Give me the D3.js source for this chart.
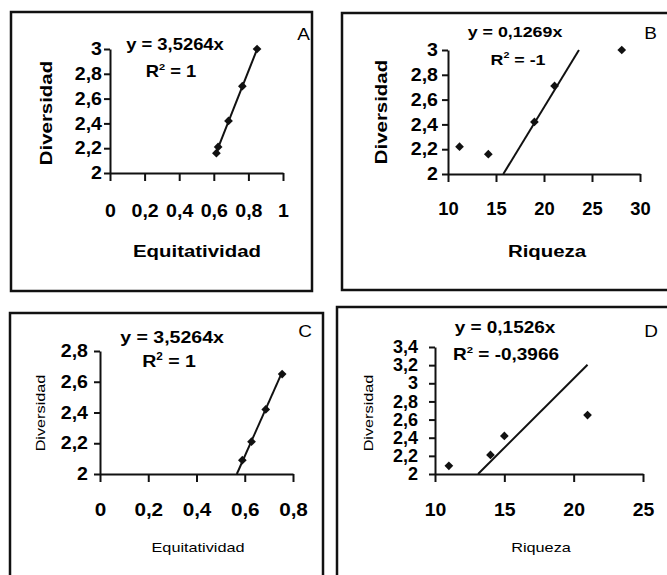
<!DOCTYPE html>
<html>
<head>
<meta charset="utf-8">
<script src="https://cdn.jsdelivr.net/npm/d3@7/dist/d3.min.js"></script>
<style>
  html, body { margin: 0; padding: 0; background: #fff; }
  svg { display: block; }
  text { font-family: "Liberation Sans", Arial, sans-serif; fill: #000; }
</style>
</head>
<body>
<svg id="chart" width="667" height="575"></svg>
<script>
// ---------- data ----------
const panelLetters = ["A", "B", "C", "D"];
const xTitles = ["Equitatividad", "Riqueza", "Equitatividad", "Riqueza"];
const yTitle = "Diversidad";
const equations = ["y = 3,5264x", "y = 0,1269x", "y = 3,5264x", "y = 0,1526x"];
const r2Values = ["1", "-1", "1", "-0,3966"];

const equitA = [0.615, 0.625, 0.685, 0.765, 0.85];
const divA   = [2.16, 2.21, 2.42, 2.70, 3.00];
const riqB   = [11.2, 14.2, 19, 21.1, 28.1];
const divB   = [2.22, 2.16, 2.42, 2.71, 3.00];
const equitC = [0.59, 0.628, 0.687, 0.755];
const divC   = [2.09, 2.21, 2.42, 2.65];
const riqD   = [11, 14, 15, 21];
const divD   = [2.09, 2.21, 2.42, 2.65];

const trendSlopes = [3.5264, 0.1269, 3.5264, 0.1526];
const trendRanges = [[0.615, 0.85], [11, 28], [0.55, 0.755], [11, 21]];

const xTicksA = [0, 0.2, 0.4, 0.6, 0.8, 1];
const yTicksA = [2, 2.2, 2.4, 2.6, 2.8, 3];
const xTicksB = [10, 15, 20, 25, 30];
const yTicksB = [2, 2.2, 2.4, 2.6, 2.8, 3];
const xTicksC = [0, 0.2, 0.4, 0.6, 0.8];
const yTicksC = [2, 2.2, 2.4, 2.6, 2.8];
const xTicksD = [10, 15, 20, 25];
const yTicksD = [2, 2.2, 2.4, 2.6, 2.8, 3, 3.2, 3.4];

// ---------- layout ----------
const panels = [
  { xs: equitA, ys: divA, xDom: [0, 1], yDom: [2, 3], xTicks: xTicksA, yTicks: yTicksA,
    box: [11, 12, 301, 279], xr: [110, 283], yr: [173, 49], yPad: 2, xPad: 24,
    xFont: 17.5, yFont: 17.5, xSX: 1.12, ySX: 1.12,
    eq: [175, 50], r2: [171, 77], letter: [310, 40], xt: [197, 257], yt: [52, 113],
    titleFont: 17, titleBold: true, titleSX: 1.2, eqFont: 16 },
  { xs: riqB, ys: divB, xDom: [10, 30], yDom: [2, 3], xTicks: xTicksB, yTicks: yTicksB,
    box: [342, 13, 345, 277], xr: [448, 640], yr: [174, 50], yPad: 4, xPad: 21,
    xFont: 17.5, yFont: 17.5, xSX: 1.05, ySX: 1.12,
    eq: [515, 37], r2: [518, 65], letter: [657, 39], xt: [547, 257], yt: [387, 112],
    titleFont: 17, titleBold: true, titleSX: 1.2, eqFont: 15.5 },
  { xs: equitC, ys: divC, xDom: [0, 0.8], yDom: [2, 2.8], xTicks: xTicksC, yTicks: yTicksC,
    box: [10, 313, 313, 290], xr: [100, 293], yr: [474, 351], yPad: 6, xPad: 21,
    xFont: 18, yFont: 17.5, xSX: 1.15, ySX: 1.12,
    eq: [172, 343], r2: [169, 367], letter: [312, 337], xt: [198, 552], yt: [45, 413],
    titleFont: 13, titleBold: false, titleSX: 1.25, eqFont: 17 },
  { xs: riqD, ys: divD, xDom: [10, 25], yDom: [2, 3.4], xTicks: xTicksD, yTicks: yTicksD,
    box: [337, 307, 350, 290], xr: [435, 643], yr: [474, 347], yPad: 11, xPad: 21,
    xFont: 18, yFont: 17.5, xSX: 1.08, ySX: 1.03,
    eq: [505, 333], r2: [506, 360], letter: [658, 337], xt: [541, 552], yt: [373, 413],
    titleFont: 13, titleBold: false, titleSX: 1.25, eqFont: 16.5 }
];

const svg = d3.select("#chart");
const fmt = d => String(d).replace(".", ",");

function stretchTicks(sel, s) {
  sel.selectAll(".tick text").each(function () {
    const t = d3.select(this);
    const x = +t.attr("x") || 0;
    t.attr("x", x / s).attr("transform", `scale(${s},1)`);
  });
}

function addText(g, x, y, str, o) {
  return g.append("text")
    .attr("transform", `translate(${x},${y})${o.rotate ? " rotate(-90)" : ""} scale(${o.sx},1)`)
    .attr("text-anchor", o.anchor || "middle")
    .style("font-size", o.size + "px")
    .style("font-weight", o.bold ? "bold" : "normal")
    .text(str);
}

panels.forEach((p, i) => {
  const g = svg.append("g");
  // frame
  g.append("rect")
    .attr("x", p.box[0]).attr("y", p.box[1])
    .attr("width", p.box[2]).attr("height", p.box[3])
    .attr("fill", "none").attr("stroke", "#111").attr("stroke-width", 2.5);

  const x = d3.scaleLinear().domain(p.xDom).range(p.xr);
  const y = d3.scaleLinear().domain(p.yDom).range(p.yr);

  // axes
  const ax = g.append("g").attr("transform", `translate(0,${p.yr[0]})`)
    .call(d3.axisBottom(x).tickValues(p.xTicks).tickFormat(fmt).tickSize(8).tickSizeOuter(0).tickPadding(p.xPad));
  const ay = g.append("g").attr("transform", `translate(${p.xr[0]},0)`)
    .call(d3.axisLeft(y).tickValues(p.yTicks).tickFormat(fmt).tickSize(6).tickSizeOuter(0).tickPadding(p.yPad));
  [[ax, p.xFont, p.xSX], [ay, p.yFont, p.ySX]].forEach(([a, fs, sx]) => {
    a.select(".domain").attr("stroke", "#111").attr("stroke-width", 2);
    a.selectAll(".tick line").attr("stroke", "#111").attr("stroke-width", 2);
    a.selectAll(".tick text")
      .style("font-family", '"Liberation Sans", Arial, sans-serif')
      .style("font-weight", "bold").style("font-size", fs + "px").attr("fill", "#000");
    stretchTicks(a, sx);
  });

  // trendline y = slope * x, drawn over its x range and clipped to the y domain
  const s = trendSlopes[i];
  const x0 = Math.max(trendRanges[i][0], p.yDom[0] / s);
  const x1 = Math.min(trendRanges[i][1], p.yDom[1] / s);
  g.append("line")
    .attr("x1", x(x0)).attr("y1", y(s * x0))
    .attr("x2", x(x1)).attr("y2", y(s * x1))
    .attr("stroke", "#111").attr("stroke-width", 2);

  // points
  const sym = d3.symbol().type(d3.symbolSquare).size(38);
  g.selectAll("path.pt").data(p.xs.map((v, k) => [v, p.ys[k]])).enter()
    .append("path").attr("class", "pt")
    .attr("d", sym)
    .attr("transform", d => `translate(${x(d[0])},${y(d[1])}) rotate(45)`)
    .attr("fill", "#111");

  // equation & R²
  addText(g, p.eq[0], p.eq[1], equations[i], { size: p.eqFont, bold: true, sx: 1.15 });
  const r = addText(g, p.r2[0], p.r2[1], "", { size: p.eqFont, bold: true, sx: 1.15 });
  r.append("tspan").text("R");
  r.append("tspan").attr("dy", -7).style("font-size", (p.eqFont * 0.6) + "px").text("2");
  r.append("tspan").attr("dy", 7).text(" = " + r2Values[i]);

  // panel letter
  addText(g, p.letter[0], p.letter[1], panelLetters[i], { size: 16.5, bold: false, anchor: "end", sx: 1.15 });

  // axis titles
  addText(g, p.xt[0], p.xt[1], xTitles[i], { size: p.titleFont, bold: p.titleBold, sx: p.titleSX });
  addText(g, p.yt[0], p.yt[1], yTitle, { size: p.titleFont, bold: p.titleBold, sx: p.titleSX, rotate: true });
});
</script>
</body>
</html>
